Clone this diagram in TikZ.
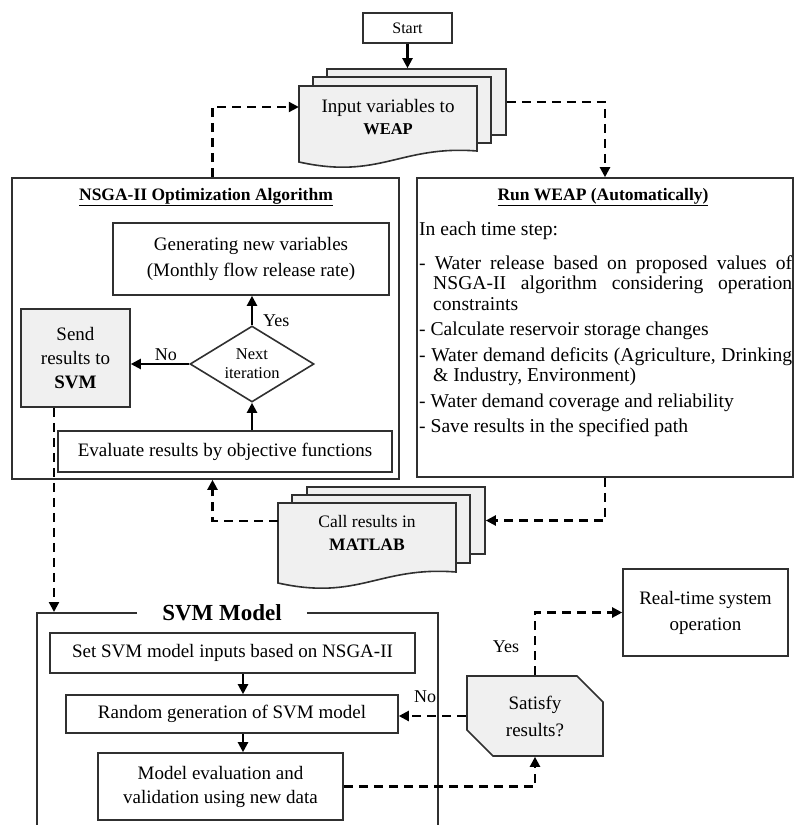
\documentclass[tikz,border=0pt]{standalone}
\usepackage{fontspec}
\setmainfont{Liberation Serif}
\usepackage{xcolor}
\usetikzlibrary{arrows.meta}
\usetikzlibrary{shapes.geometric, shapes.misc}
\definecolor{boxline}{HTML}{303030}
\definecolor{docfill}{HTML}{F0F0F0}
\newcommand{\wavedoc}[4]{%
  \filldraw[boxline, fill=docfill, line width=1.6pt] (#1,#2) -- ({#1+#3},#2) -- ({#1+#3},{#2+#4-12})
    .. controls ({#1+#3-77},{#2+#4-18}) and ({#1+81},{#2+#4+17}) .. (#1,{#2+#4-1}) -- cycle;}

\begin{document}
\begin{tikzpicture}[x=1pt, y=-1pt, >={Triangle[length=10pt,width=10pt]}]
              \tikzset{box/.style={draw=boxline, line width=1.6pt, rectangle, align=center, inner sep=0pt, font=\fontsize{19}{24}\selectfont},
                       grey box/.style={box, fill=docfill},
                       layer/.style={draw=boxline, line width=1.6pt, fill=docfill, rectangle, inner sep=0pt},
                       title/.style={font=\bfseries\fontsize{17.5}{20}\selectfont, inner sep=0pt},
                       flow/.style={->, line width=2.2pt},
                       dashflow/.style={->, line width=2.2pt, dash pattern=on 9pt off 6pt},
                       lbl/.style={font=\fontsize{18}{20}\selectfont, inner sep=1pt}}

              \useasboundingbox (0,0) rectangle (794,825);

              \node[box, minimum width=89pt, minimum height=30pt, font=\fontsize{16}{18}\selectfont] (start) at (407.5,28) {Start};

              % input documents
              \node[layer, minimum width=179pt, minimum height=66pt] (inputC) at (416.5,102) {};
              \node[layer, minimum width=178pt, minimum height=66pt] (inputB) at (402,110) {};
              \wavedoc{299}{86}{178}{77}
              \node[align=center, minimum width=178pt, minimum height=62pt, inner sep=0pt, font=\fontsize{19}{22}\selectfont] (input) at (388,117) {Input variables to\\{\bfseries\fontsize{16.5}{22}\selectfont WEAP}};

              % NSGA-II
              \node[box, minimum width=387pt, minimum height=301pt] (nsga) at (205.5,328.5) {};
              \node[title] (nsgatitle) at (206,197) {\underline{NSGA-II Optimization Algorithm}};
              \node[box, minimum width=276pt, minimum height=72pt, font=\fontsize{19}{26}\selectfont] (gen) at (251,259) {Generating new variables\\(Monthly flow release rate)};
              \node[diamond, aspect=1.6, draw=boxline, line width=1.6pt, minimum width=124pt, minimum height=76pt, inner sep=0pt, align=center, font=\fontsize{16.5}{19}\selectfont] (next) at (252,364) {Next\\iteration};
              \node[grey box, minimum width=109pt, minimum height=98pt] (send) at (75.5,358) {Send\\results to\\{\bfseries SVM}};
              \node[box, minimum width=334pt, minimum height=41pt] (eval) at (225,451.5) {Evaluate results by objective functions};

              % WEAP
              \node[box, minimum width=376pt, minimum height=299pt] (runweap) at (605,327.5) {};
              \node[title] (runtitle) at (603,197) {\underline{Run WEAP (Automatically)}};
              \node[anchor=north west, text width=373pt, align=justify, inner sep=0pt, font=\fontsize{19.6}{20.5}\selectfont] (steps) at (419,222) {%
                \parindent=0pt \parskip=5pt \tolerance=10000 \hyphenpenalty=10000 \exhyphenpenalty=10000
                In each time step:\par\vspace{8pt}
                \hangindent=14pt \hangafter=1 - Water release based on proposed values of\linebreak NSGA-II algorithm considering operation\linebreak constraints\par
                \hangindent=14pt \hangafter=1 - Calculate reservoir storage changes\par
                \hangindent=14pt \hangafter=1 - Water demand deficits (Agriculture, Drinking\linebreak \& Industry, Environment)\par
                \hangindent=14pt \hangafter=1 - Water demand coverage and reliability\par
                \hangindent=14pt \hangafter=1 - Save results in the specified path\par};

              % MATLAB documents
              \node[layer, minimum width=178pt, minimum height=67pt] (matlabC) at (396,520.5) {};
              \node[layer, minimum width=178pt, minimum height=68pt] (matlabB) at (381,529) {};
              \wavedoc{278}{503}{178}{81}
              \node[align=center, minimum width=178pt, minimum height=60pt, inner sep=0pt, font=\fontsize{17.5}{23}\selectfont] (matlab) at (367,533) {Call results in\\{\bfseries MATLAB}};

              % SVM
              \coordinate (svmtop) at (54,612);
              \node[font=\bfseries\fontsize{23}{25}\selectfont, inner xsep=25pt, inner ysep=0pt] (svmtitle) at (222,613) {SVM Model};
              \draw[boxline, line width=1.6pt] (svmtitle.west) -| (37,840);
              \draw[boxline, line width=1.6pt] (svmtitle.east) -| (438,840);
              \node[box, minimum width=365pt, minimum height=40pt] (setin) at (232.5,653) {Set SVM model inputs based on NSGA-II};
              \node[box, minimum width=332pt, minimum height=38pt] (randgen) at (232,714) {Random generation of SVM model};
              \node[box, minimum width=245pt, minimum height=67pt] (modeleval) at (220.5,786.5) {Model evaluation and\\validation using new data};
              \node[chamfered rectangle, chamfered rectangle corners={north east, south west}, chamfered rectangle xsep=13pt, chamfered rectangle ysep=13pt,
                    draw=boxline, fill=docfill, line width=1.6pt, minimum width=136pt, minimum height=80pt, inner sep=0pt, align=center,
                    font=\fontsize{19}{27}\selectfont] (satisfy) at (535,716) {Satisfy\\results?};
              \node[box, minimum width=165pt, minimum height=87pt, font=\fontsize{19}{26}\selectfont] (realtime) at (705.5,612.5) {Real-time system\\operation};

              % connectors
              \draw[flow] (start) -- (start |- inputC.north);
              \draw[dashflow] ([xshift=7pt]nsga.north) |- ([yshift=10pt]input.west);
              \draw[dashflow] (inputC.east) -| (runweap.north);
              \draw[dashflow] (runweap.south) |- (matlabC.east);
              \draw[dashflow] ([yshift=12pt]matlab.west) -| ([xshift=7pt]nsga.south);

              \draw[flow] (next.north) -- (next.north |- gen.south) node[lbl, pos=0.15, right=9pt] (yes1) {Yes};
              \draw[flow] (next.west) -- (next.west -| send.east) node[lbl, pos=0.4, above=1pt] (no1) {No};
              \draw[flow] (eval.north -| next.south) -- (next.south);
              \draw[dashflow] (send.south -| svmtop) -- (svmtop);

              \draw[flow] ([xshift=10.5pt]setin.south) -- ([xshift=10.5pt]setin.south |- randgen.north);
              \draw[flow] ([xshift=11pt]randgen.south) -- ([xshift=11pt]randgen.south |- modeleval.north);
              \draw[dashflow] (satisfy.west) -- (satisfy.west -| randgen.east);
              \draw[dashflow] (satisfy.north) |- (realtime.west);
              \draw[dashflow] (modeleval.east) -| (satisfy.south);
              \node[lbl] (yes2) at (506,647) {Yes};
              \node[lbl] (no2) at (425,697) {No};
            \end{tikzpicture}
\end{document}
